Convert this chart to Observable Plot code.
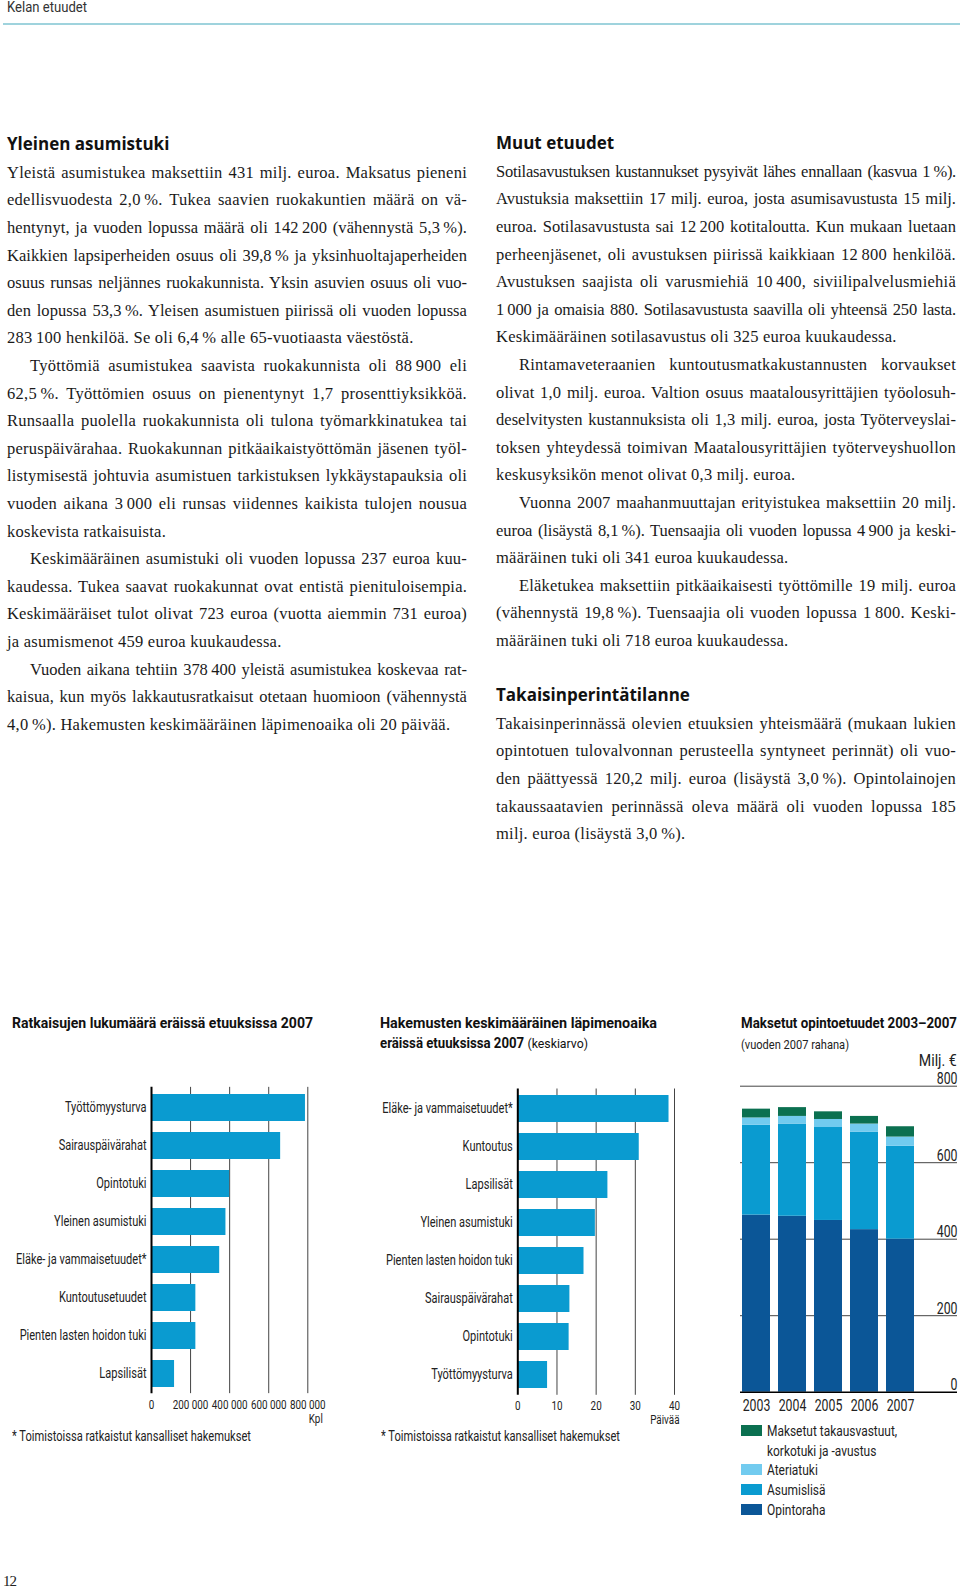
<!DOCTYPE html>
<html><head><meta charset="utf-8">
<script src="https://cdn.jsdelivr.net/npm/d3@7"></script>
<script src="https://cdn.jsdelivr.net/npm/@observablehq/plot@0.6"></script>
<style>
body{margin:0;background:#fff;}
#page{position:relative;width:960px;height:1589px;overflow:hidden;background:#fff;}
.abs{position:absolute;white-space:nowrap;}
.ln{position:absolute;white-space:nowrap;font-family:'Liberation Serif','Times New Roman',serif;font-size:16.5px;letter-spacing:0.25px;line-height:27.6px;color:#1a1a1a;}
.hd{position:absolute;white-space:nowrap;font-family:'Open Sans',sans-serif;font-weight:700;font-size:17px;line-height:27.6px;color:#111;}
.cf{font-family:Roboto,sans-serif;color:#222;}
.sw{position:absolute;width:21px;height:11px;}
</style></head>
<body><div id="page"></div>
<script>
// ---------- DATA ----------
const cat1 = ["Työttömyysturva","Sairauspäivärahat","Opintotuki","Yleinen asumistuki","Eläke- ja vammaisetuudet*","Kuntoutusetuudet","Pienten lasten hoidon tuki","Lapsilisät"];
const val1 = [788000, 661000, 400000, 381000, 349000, 227000, 227000, 118000];
const ticks1 = [0, 200000, 400000, 600000, 800000];

const cat2 = ["Eläke- ja vammaisetuudet*","Kuntoutus","Lapsilisät","Yleinen asumistuki","Pienten lasten hoidon tuki","Sairauspäivärahat","Opintotuki","Työttömyysturva"];
const val2 = [38.6, 31.0, 23.0, 19.8, 16.9, 13.3, 13.1, 7.6];
const ticks2 = [0, 10, 20, 30, 40];

const years = ["2003","2004","2005","2006","2007"];
const opintoraha = [463, 460, 449, 425, 400];
const asumislisa = [235, 241, 243, 255, 243];
const ateriatuki = [19, 20, 21, 21, 24];
const takaus = [23, 23, 20, 20, 27];
const series3 = ["Opintoraha","Asumislisä","Ateriatuki","Maksetut takausvastuut, korkotuki ja -avustus"];
const colors3 = ["#0b5697","#0a9bd0","#72cbef","#0b7050"];
const ticks3 = [0, 200, 400, 600, 800];

// ---------- TEXT ----------
const T = "\u2009";
const leftCol = [
 {h:"Yleinen asumistuki"},
 {p:["Yleistä asumistukea maksettiin 431 milj. euroa. Maksatus pieneni",
     "edellisvuodesta 2,0"+T+"%. Tukea saavien ruokakuntien määrä on vä-",
     "hentynyt, ja vuoden lopussa määrä oli 142"+T+"200 (vähennystä 5,3"+T+"%).",
     "Kaikkien lapsiperheiden osuus oli 39,8"+T+"% ja yksinhuoltajaperheiden",
     "osuus runsas neljännes ruokakunnista. Yksin asuvien osuus oli vuo-",
     "den lopussa 53,3"+T+"%. Yleisen asumistuen piirissä oli vuoden lopussa",
     "283"+T+"100 henkilöä. Se oli 6,4"+T+"% alle 65-vuotiaasta väestöstä."], first:true},
 {p:["Työttömiä asumistukea saavista ruokakunnista oli 88"+T+"900 eli",
     "62,5"+T+"%. Työttömien osuus on pienentynyt 1,7 prosenttiyksikköä.",
     "Runsaalla puolella ruokakunnista oli tulona työmarkkinatukea tai",
     "peruspäivärahaa. Ruokakunnan pitkäaikaistyöttömän jäsenen työl-",
     "listymisestä johtuvia asumistuen tarkistuksen lykkäystapauksia oli",
     "vuoden aikana 3"+T+"000 eli runsas viidennes kaikista tulojen nousua",
     "koskevista ratkaisuista."]},
 {p:["Keskimääräinen asumistuki oli vuoden lopussa 237 euroa kuu-",
     "kaudessa. Tukea saavat ruokakunnat ovat entistä pienituloisempia.",
     "Keskimääräiset tulot olivat 723 euroa (vuotta aiemmin 731 euroa)",
     "ja asumismenot 459 euroa kuukaudessa."]},
 {p:["Vuoden aikana tehtiin 378"+T+"400 yleistä asumistukea koskevaa rat-",
     "kaisua, kun myös lakkautusratkaisut otetaan huomioon (vähennystä",
     "4,0"+T+"%). Hakemusten keskimääräinen läpimenoaika oli 20 päivää."]}
];
const rightCol = [
 {h:"Muut etuudet"},
 {p:["Sotilasavustuksen kustannukset pysyivät lähes ennallaan (kasvua 1"+T+"%).",
     "Avustuksia maksettiin 17 milj. euroa, josta asumisavustusta 15 milj.",
     "euroa. Sotilasavustusta sai 12"+T+"200 kotitaloutta. Kun mukaan luetaan",
     "perheenjäsenet, oli avustuksen piirissä kaikkiaan 12"+T+"800 henkilöä.",
     "Avustuksen saajista oli varusmiehiä 10"+T+"400, siviilipalvelusmiehiä",
     "1"+T+"000 ja omaisia 880. Sotilasavustusta saavilla oli yhteensä 250 lasta.",
     "Keskimääräinen sotilasavustus oli 325 euroa kuukaudessa."], first:true},
 {p:["Rintamaveteraanien kuntoutusmatkakustannusten korvaukset",
     "olivat 1,0 milj. euroa. Valtion osuus maatalousyrittäjien työolosuh-",
     "deselvitysten kustannuksista oli 1,3 milj. euroa, josta Työterveyslai-",
     "toksen yhteydessä toimivan Maatalousyrittäjien työterveyshuollon",
     "keskusyksikön menot olivat 0,3 milj. euroa."]},
 {p:["Vuonna 2007 maahanmuuttajan erityistukea maksettiin 20 milj.",
     "euroa (lisäystä 8,1"+T+"%). Tuensaajia oli vuoden lopussa 4"+T+"900 ja keski-",
     "määräinen tuki oli 341 euroa kuukaudessa."]},
 {p:["Eläketukea maksettiin pitkäaikaisesti työttömille 19 milj. euroa",
     "(vähennystä 19,8"+T+"%). Tuensaajia oli vuoden lopussa 1"+T+"800. Keski-",
     "määräinen tuki oli 718 euroa kuukaudessa."]},
 {blank:true},
 {h:"Takaisinperintätilanne"},
 {p:["Takaisinperinnässä olevien etuuksien yhteismäärä (mukaan lukien",
     "opintotuen tulovalvonnan perusteella syntyneet perinnät) oli vuo-",
     "den päättyessä 120,2 milj. euroa (lisäystä 3,0"+T+"%). Opintolainojen",
     "takaussaatavien perinnässä oleva määrä oli vuoden lopussa 185",
     "milj. euroa (lisäystä 3,0"+T+"%)."], first:true}
];

const page = document.getElementById("page");
const LH = 27.6;
function addDiv(cls, html, style){ const d=document.createElement("div"); d.className=cls; d.innerHTML=html; Object.assign(d.style, style||{}); page.appendChild(d); return d; }

function renderColumn(blocks, x, centerY0, width){
  let i = 0;
  const toJustify = [];
  for (const b of blocks){
    if (b.blank){ i++; continue; }
    if (b.h){ addDiv("hd", b.h, {left:x+"px", top:(centerY0 + i*LH - LH/2 - 1)+"px"}); i++; continue; }
    b.p.forEach((line, k) => {
      const indent = (k===0 && !b.first) ? 23 : 0;
      const el = document.createElement("span");
      el.className = "ln";
      el.textContent = line;
      el.style.left = (x+indent)+"px";
      el.style.top = (centerY0 + i*LH - LH/2)+"px";
      page.appendChild(el);
      if (k < b.p.length-1) toJustify.push([el, width-indent]);
      i++;
    });
  }
  for (const [el, w] of toJustify){
    let cur = el.getBoundingClientRect().width;
    const n = (el.textContent.match(/ /g)||[]).length;
    const minGap = 1.5 * n;
    if (w - cur < minGap) {
      // squeeze letters so that words keep a normal gap
      const chars = el.textContent.length;
      el.style.letterSpacing = (0.25 + (w - cur - minGap)/chars) + "px";
      cur = el.getBoundingClientRect().width;
    }
    if (n) el.style.wordSpacing = ((w-cur)/n)+"px";
  }
}
renderColumn(leftCol, 7, 145, 460);
renderColumn(rightCol, 496, 144, 460);

// condensed-text helpers
const CF = "Roboto, sans-serif";
const ctx = document.createElement("canvas").getContext("2d");
function measure(txt, size, weight){ ctx.font = (weight||400)+" "+size+"px Roboto"; return ctx.measureText(txt).width; }
function fit(el, target, origin){
  const w = el.getBoundingClientRect().width;
  el.style.transformOrigin = origin || "left center";
  el.style.transform = "scaleX("+(target/w)+")";
}
function squeeze(el, s, origin){ el.style.transformOrigin = origin || "left center"; el.style.transform = "scaleX("+s+")"; }
function condenseSvg(svg, s){
  svg.querySelectorAll("text").forEach(t=>{
    const x = parseFloat(t.getAttribute("x")||0) || 0;
    const tr = t.getAttribute("transform")||"";
    t.setAttribute("transform", `${tr} translate(${x},0) scale(${s},1) translate(${-x},0)`);
  });
}
// condensation factor from a reference label width ("Työttömyysturva" ≈ 82px at 14px)
const S = 81.7 / measure("Työttömyysturva", 14);

// header
const hdr = addDiv("abs cf", "Kelan etuudet", {left:"7px", top:"0px", fontSize:"14px", lineHeight:"15px", color:"#333"});
fit(hdr, 80);
addDiv("abs", "", {left:"3px", top:"23px", width:"957px", height:"1.5px", background:"#9fd3dd"});
// page number
addDiv("abs", "12", {left:"3px", top:"1573px", fontSize:"15px", fontFamily:"'Liberation Serif',serif", color:"#222", letterSpacing:"-1px"});

const BLUE = "#0a9bd0";
const spaceFmt = d => d === 0 ? "0" : d3.format(",")(d).replace(/,/g, " ");

// ---------- Chart 1 ----------
fit(addDiv("abs cf", "<b>Ratkaisujen lukumäärä eräissä etuuksissa 2007</b>", {left:"12px", top:"1015px", fontSize:"14.5px", color:"#111"}), 301);
const data1 = cat1.map((c,i)=>({cat:c, value:val1[i]}));
const p1 = Plot.plot({
  width:340, height:375, marginLeft:151, marginRight:32.7, marginTop:26.85, marginBottom:41.85,
  style:{fontFamily:CF, fontSize:"14px", color:"#222", background:"transparent"},
  x:{domain:[0,800000], axis:null},
  y:{domain:cat1, paddingInner:0.3, paddingOuter:0.15, axis:null},
  marks:[
    Plot.ruleX(ticks1.slice(1), {stroke:"#444", strokeWidth:1}),
    Plot.barX(data1, {x:"value", y:"cat", fill:BLUE}),
    Plot.ruleX([0], {stroke:"#000", strokeWidth:2}),
    Plot.axisX(ticks1, {tickSize:0, tickPadding:6, tickFormat:spaceFmt, label:null, fontSize:12.5}),
    Plot.axisY({tickSize:0, tickPadding:5, label:null, fontSize:14}),
    Plot.text(["Kpl"], {frameAnchor:"bottom-right", dx:15, dy:29, textAnchor:"end", fontSize:12.5})
  ]
});
condenseSvg(p1, S);
Object.assign(p1.style, {position:"absolute", left:"0px", top:"1060px"});
page.appendChild(p1);
fit(addDiv("abs cf", "* Toimistoissa ratkaistut kansalliset hakemukset", {left:"12px", top:"1428px", fontSize:"14px"}), 239);

// ---------- Chart 2 ----------
fit(addDiv("abs cf", "<b>Hakemusten keskimääräinen läpimenoaika</b>", {left:"380px", top:"1015px", fontSize:"14.5px", color:"#111"}), 277);
const t2b = addDiv("abs cf", "<b>eräissä etuuksissa 2007</b> <span style='font-size:13.5px'>(keskiarvo)</span>", {left:"380px", top:"1035px", fontSize:"14.5px", color:"#111"});
fit(t2b, 208);
const data2 = cat2.map((c,i)=>({cat:c, value:val2[i]}));
const p2 = Plot.plot({
  width:340, height:375, marginLeft:157.3, marginRight:26, marginTop:28.5, marginBottom:40.2,
  style:{fontFamily:CF, fontSize:"14px", color:"#222", background:"transparent"},
  x:{domain:[0,40], axis:null},
  y:{domain:cat2, paddingInner:0.3, paddingOuter:0.15, axis:null},
  marks:[
    Plot.ruleX(ticks2.slice(1), {stroke:"#444", strokeWidth:1}),
    Plot.barX(data2, {x:"value", y:"cat", fill:BLUE}),
    Plot.ruleX([0], {stroke:"#000", strokeWidth:2}),
    Plot.axisX(ticks2, {tickSize:0, tickPadding:6, label:null, fontSize:12.5}),
    Plot.axisY({tickSize:0, tickPadding:5, label:null, fontSize:14}),
    Plot.text(["Päivää"], {frameAnchor:"bottom-right", dx:5, dy:29, textAnchor:"end", fontSize:12.5})
  ]
});
condenseSvg(p2, S);
Object.assign(p2.style, {position:"absolute", left:"360px", top:"1060px"});
page.appendChild(p2);
fit(addDiv("abs cf", "* Toimistoissa ratkaistut kansalliset hakemukset", {left:"381px", top:"1428px", fontSize:"14px"}), 239);

// ---------- Chart 3 ----------
fit(addDiv("abs cf", "<b>Maksetut opintoetuudet 2003–2007</b>", {left:"741px", top:"1015px", fontSize:"14.5px", color:"#111"}), 216);
fit(addDiv("abs cf", "(vuoden 2007 rahana)", {left:"741px", top:"1037px", fontSize:"13px"}), 108);
fit(addDiv("abs cf", "Milj. €", {right:"3px", top:"1051px", fontSize:"16px"}), 38, "right center");
const data3 = [];
years.forEach((y,i)=>{
  [opintoraha, asumislisa, ateriatuki, takaus].forEach((arr,k)=>data3.push({year:y, series:series3[k], value:arr[i]}));
});
const S3 = 27.7 / measure("2003", 16);
const p3 = Plot.plot({
  width:240, height:350, marginLeft:20, marginRight:3, marginTop:15.7, marginBottom:28.3,
  style:{fontFamily:CF, fontSize:"16px", color:"#222", background:"transparent"},
  x:{domain:years, paddingInner:0.215, paddingOuter:0.596, align:0.04, axis:null},
  y:{domain:[0,800], axis:null},
  color:{domain:series3, range:colors3},
  marks:[
    Plot.ruleY(ticks3.slice(1), {stroke:"#444", strokeWidth:1}),
    Plot.barY(data3, {x:"year", y:"value", fill:"series", order:series3}),
    Plot.ruleY([0], {stroke:"#000", strokeWidth:1.5}),
    Plot.text(ticks3, {y:d=>d, text:d=>String(d), frameAnchor:"right", textAnchor:"end", lineAnchor:"bottom", dy:-2, fontSize:16}),
    Plot.axisX({tickSize:0, tickPadding:7, label:null, fontSize:16})
  ]
});
condenseSvg(p3, S3);
Object.assign(p3.style, {position:"absolute", left:"720px", top:"1070px"});
page.appendChild(p3);

// legend (top to bottom: reverse of stacking)
const legendRows = [
  {i:3, y:1421, text:"Maksetut takausvastuut,<br>korkotuki ja -avustus"},
  {i:2, y:1460, text:series3[2]},
  {i:1, y:1480, text:series3[1]},
  {i:0, y:1500, text:series3[0]}
];
legendRows.forEach(r=>{
  addDiv("sw", "", {left:"741px", top:(r.y+4)+"px", background:colors3[r.i]});
  squeeze(addDiv("abs cf", r.text, {left:"767px", top:r.y+"px", fontSize:"15.5px", lineHeight:"20px"}), S3);
});
</script>
</body></html>
